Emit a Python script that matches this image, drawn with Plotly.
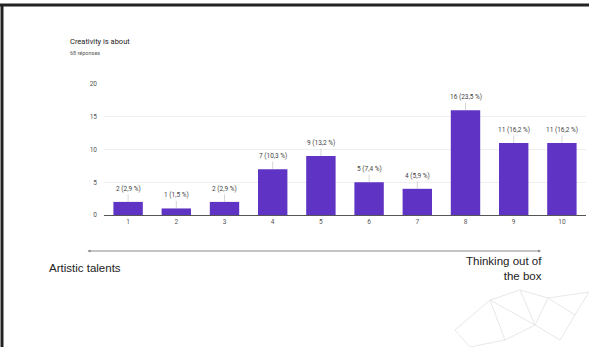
import plotly.graph_objects as go

# Survey results: "Creativity is about" on a 1-10 scale
scale = [1, 2, 3, 4, 5, 6, 7, 8, 9, 10]
counts = [2, 1, 2, 7, 9, 5, 4, 16, 11, 11]
percents = ["2,9", "1,5", "2,9", "10,3", "13,2", "7,4", "5,9", "23,5", "16,2", "16,2"]
y_ticks = [0, 5, 10, 15, 20]
title_text = "Creativity is about"
subtitle_text = "68 réponses"
low_label = "Artistic talents"
high_label = "Thinking out of<br>the box"

W, H = 589, 347
L, R, T, B = 104, 3, 84, 132
PW, PH = W - L - R, H - T - B


def px(x):
    return (x - L) / PW


def py(y):
    return (H - B - y) / PH


BAR = "#5f33c4"
TXT = "#555555"

fig = go.Figure(go.Bar(
    x=scale, y=counts, marker=dict(color=BAR, line=dict(width=0)),
    hoverinfo="skip",
))

annotations = []
for s, c, p in zip(scale, counts, percents):
    annotations.append(dict(
        x=s, y=c, xref="x", yref="y", text=f"{c} ({p} %)",
        showarrow=True, arrowhead=0, arrowwidth=0.6, arrowcolor="#bbbbbb",
        ax=0, ay=-13, font=dict(family="Roboto, Arial", size=6.5, color="#444444"),
    ))

annotations += [
    dict(x=px(68), y=py(41), xref="paper", yref="paper", text=title_text,
         showarrow=False, xanchor="left", yanchor="middle",
         font=dict(family="Roboto, Arial", size=7.5, color="#222222")),
    dict(x=px(68), y=py(53), xref="paper", yref="paper", text=subtitle_text,
         showarrow=False, xanchor="left", yanchor="middle",
         font=dict(family="Roboto, Arial", size=5.5, color="#555555")),
    # scale arrow under the chart
    dict(x=px(541), y=py(251), xref="paper", yref="paper", text="",
         showarrow=True, ax=-(541 - 86), ay=0, arrowhead=2, startarrowhead=2,
         arrowside="end+start", arrowsize=0.6, startarrowsize=0.6,
         arrowwidth=1, arrowcolor="#8a8a8a"),
    dict(x=px(47), y=py(268), xref="paper", yref="paper", text=low_label,
         showarrow=False, xanchor="left", yanchor="middle",
         font=dict(family="Liberation Sans, Arial", size=11.5, color="#222222")),
    dict(x=px(544), y=py(268), xref="paper", yref="paper", text=high_label,
         showarrow=False, xanchor="right", yanchor="middle", align="right",
         font=dict(family="Liberation Sans, Arial", size=11.5, color="#222222")),
]

shapes = [
    # frame edges
    dict(type="line", xref="paper", yref="paper", x0=px(0), x1=px(W), y0=py(5), y1=py(5),
         line=dict(color="#222222", width=3)),
    dict(type="line", xref="paper", yref="paper", x0=px(2), x1=px(2), y0=py(4), y1=py(H),
         line=dict(color="#222222", width=3)),
]

# faint network decoration in the bottom-right corner
nodes = [(455, 330), (490, 300), (520, 290), (548, 298), (575, 315), (505, 340),
         (560, 340), (589, 292), (470, 347), (535, 325)]
edges = [(0, 1), (1, 2), (2, 3), (3, 4), (1, 5), (5, 9), (9, 3), (9, 6), (6, 4),
         (4, 7), (0, 8), (8, 5), (2, 9), (3, 7), (1, 9)]
for a, b in edges:
    (x0, y0), (x1, y1) = nodes[a], nodes[b]
    shapes.append(dict(type="line", xref="paper", yref="paper",
                       x0=px(x0), y0=py(y0), x1=px(x1), y1=py(y1),
                       line=dict(color="#e8e8e8", width=1)))

fig.update_layout(
    width=W, height=H, margin=dict(l=L, r=R, t=T, b=B),
    paper_bgcolor="white", plot_bgcolor="white", showlegend=False,
    bargap=0.39, annotations=annotations, shapes=shapes,
    xaxis=dict(
        tickmode="array", tickvals=scale, ticktext=[str(s) for s in scale],
        range=[0.5, 10.5], showgrid=False, zeroline=False,
        showline=True, linecolor="#555555", linewidth=1,
        ticks="", ticklen=0,
        tickfont=dict(family="Roboto, Arial", size=6.5, color=TXT),
    ),
    yaxis=dict(
        range=[0, 20], tickvals=y_ticks, showgrid=True, gridcolor="#efefef",
        gridwidth=1, zeroline=False, showline=False, ticks="",
        ticklabelstandoff=6,
        tickfont=dict(family="Roboto, Arial", size=6.5, color=TXT),
    ),
)

fig.write_html("out.html")
